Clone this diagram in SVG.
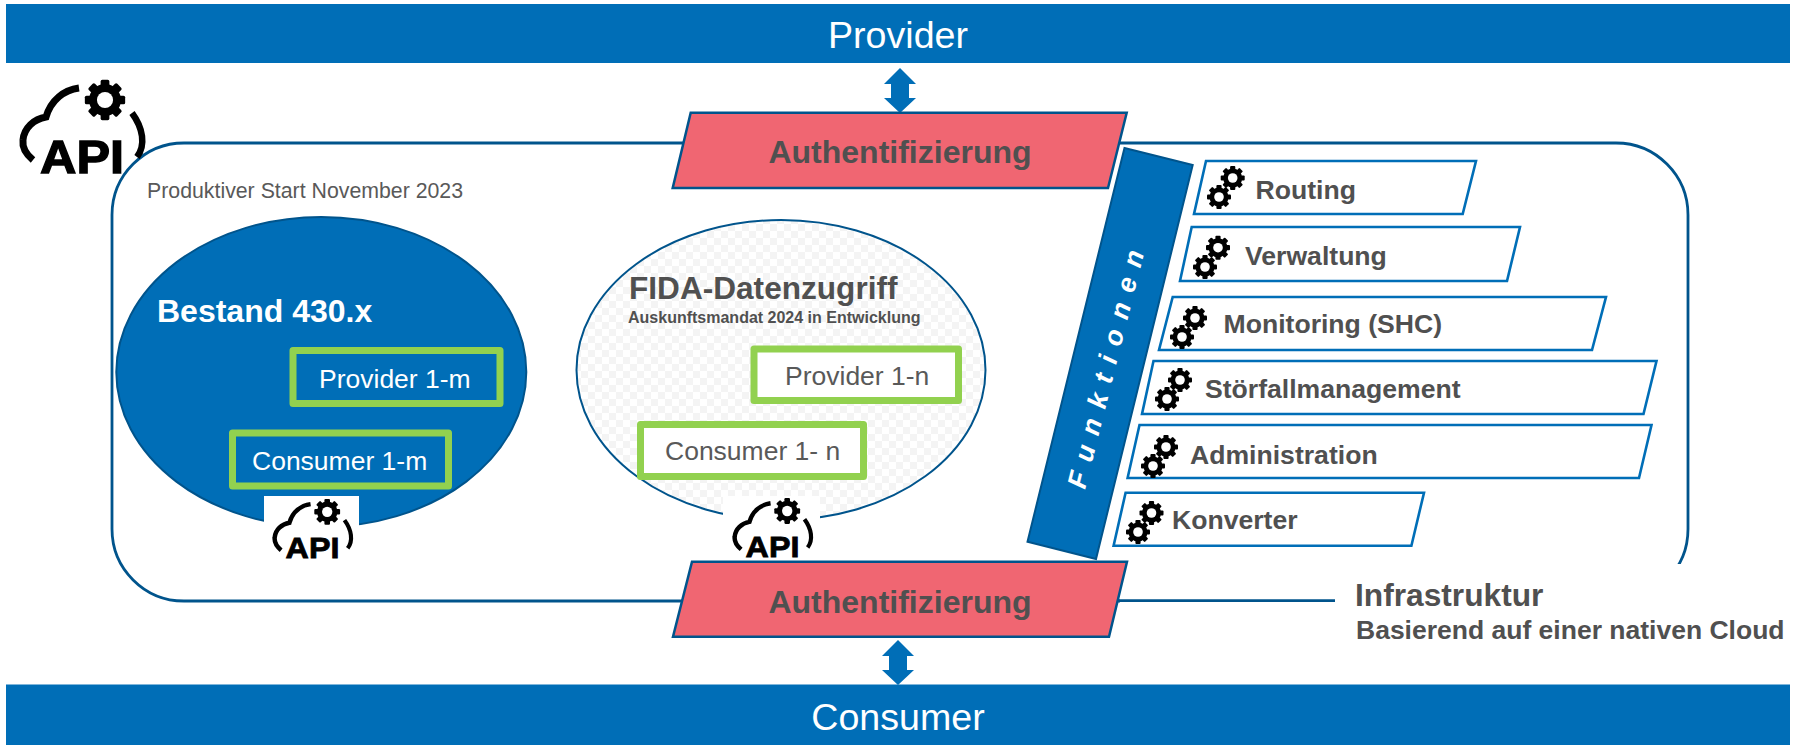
<svg xmlns="http://www.w3.org/2000/svg" width="1801" height="745" viewBox="0 0 1801 745">
<style>
text{font-family:"Liberation Sans",Arial,sans-serif}
.bar{fill:#006eb7}
.bt{fill:#fff;font-size:37.600px;text-anchor:middle}
.red{fill:#f06672;stroke:#00548c;stroke-width:2.500}
.rt{fill:#505050;font-size:32px;font-weight:bold;text-anchor:middle}
.fb{fill:#fff;stroke:#006eb7;stroke-width:2.600}
.ft{fill:#505050;font-size:26.600px;font-weight:bold}
.gb{stroke:#92d14f;stroke-width:7;stroke-linejoin:round}
.ar{fill:#006eb7}
.api{fill:#000;stroke:#000;stroke-width:1.300;font-weight:bold}
.lbl{font-size:26.500px}
</style>
<defs>
<pattern id="chk" width="14" height="14" patternUnits="userSpaceOnUse"><rect width="14" height="14" fill="#fff"/><rect width="7" height="7" fill="#f4f4f4"/><rect x="7" y="7" width="7" height="7" fill="#f4f4f4"/></pattern>
<g id="gear"><g fill="#000"><rect x="-2.600" y="-12" width="5.200" height="24" rx="1"/><rect x="-2.600" y="-12" width="5.200" height="24" rx="1" transform="rotate(45)"/><rect x="-2.600" y="-12" width="5.200" height="24" rx="1" transform="rotate(90)"/><rect x="-2.600" y="-12" width="5.200" height="24" rx="1" transform="rotate(135)"/><circle r="9.500"/></g><circle r="4.800" fill="#fff"/></g>
<g id="cloud"><path d="M79 88C64 90 51 100 46 117C34 119 24 128 23 140C22 148 27 155 33 160" fill="none" stroke="#000" stroke-width="7"/><path d="M132 113C143 128 146 145 137 157" fill="none" stroke="#000" stroke-width="6.500"/><use href="#gear" transform="translate(105 100) scale(1.680)"/></g>
</defs>

<g id="connectors">
<rect x="112" y="143" width="1576" height="458" rx="72" fill="#fff" stroke="#00548c" stroke-width="2.800"/>
<rect x="1120" y="564" width="681" height="120" fill="#fff"/>
<line x1="1100" y1="600.700" x2="1335" y2="600.700" stroke="#00548c" stroke-width="2.800"/>
<path class="ar" d="M900 68L916 84H909V98H916L900 113L884 98H891V84H884Z"/>
<path class="ar" d="M898 640L914 656H907V670H914L898 685L882 670H889V656H882Z"/>
</g>

<g id="provider"><rect class="bar" x="6" y="4" width="1784" height="59"/><text class="bt" x="898" y="47.500">Provider</text></g>
<g id="consumer"><rect class="bar" x="6" y="684.500" width="1784" height="60.500"/><text class="bt" x="898" y="730">Consumer</text></g>

<g id="auth-top"><path class="red" d="M690.700 112.700H1126.700L1108 188H672.700Z"/><text class="rt" x="900" y="163">Authentifizierung</text></g>
<g id="auth-bottom"><path class="red" d="M692 561.700H1127L1109 636.700H673Z"/><text class="rt" x="900" y="613">Authentifizierung</text></g>

<g id="api-main"><use href="#cloud"/><text class="api" x="40" y="172.500" font-size="47" textLength="84" lengthAdjust="spacingAndGlyphs">API</text></g>
<text x="147" y="198" font-size="21.300" fill="#595959">Produktiver Start November 2023</text>

<g id="bestand">
<ellipse cx="321.300" cy="372" rx="205" ry="155" fill="#006eb7" stroke="#00548c" stroke-width="2"/>
<text x="157" y="322" font-size="32" font-weight="bold" fill="#fff">Bestand 430.x</text>
<rect class="gb" x="293" y="350.500" width="207" height="53" fill="#006eb7"/><text class="lbl" x="319" y="387.500" fill="#fff">Provider 1-m</text>
<rect class="gb" x="232.500" y="433" width="216" height="53" fill="#006eb7"/><text class="lbl" x="252" y="470" fill="#fff">Consumer 1-m</text>
<rect x="264" y="496" width="95" height="64" fill="#fff"/>
<g transform="translate(260 447.800) scale(.64)"><use href="#cloud"/><text class="api" x="40" y="172.500" font-size="47" textLength="84" lengthAdjust="spacingAndGlyphs">API</text></g>
</g>

<g id="fida">
<ellipse cx="781" cy="370" rx="204.500" ry="150" fill="url(#chk)" stroke="#00548c" stroke-width="2"/>
<text x="629" y="299" font-size="31.600" font-weight="bold" fill="#505050">FIDA-Datenzugriff</text>
<text x="628" y="323" font-size="16" font-weight="bold" fill="#505050">Auskunftsmandat 2024 in Entwicklung</text>
<rect class="gb" x="754" y="349" width="204.500" height="51.500" fill="#fff"/><text class="lbl" x="785" y="385" fill="#595959">Provider 1-n</text>
<rect class="gb" x="640.500" y="424.500" width="223" height="52" fill="#fff"/><text class="lbl" x="665" y="460" fill="#595959">Consumer 1- n</text>
<rect x="723" y="496" width="97" height="64" fill="#fff"/>
<g transform="translate(720 447) scale(.64)"><use href="#cloud"/><text class="api" x="40" y="172.500" font-size="47" textLength="84" lengthAdjust="spacingAndGlyphs">API</text></g>
</g>

<g id="funktionen"><path d="M1124.500 148L1192.700 165L1096 559L1027.500 541.700Z" fill="#006eb7" stroke="#00548c" stroke-width="2"/><text transform="translate(1085 490) rotate(-76)" font-size="27" font-weight="bold" font-style="italic" fill="#fff" letter-spacing="11">Funktionen</text></g>

<g id="routing"><path class="fb" d="M1206 161H1476L1462.700 214H1194Z"/><use href="#gear" transform="translate(1232.700 178)"/><use href="#gear" transform="translate(1219 197)"/><text class="ft" x="1255.500" y="199">Routing</text></g>
<g id="verwaltung"><path class="fb" d="M1191.700 227H1520L1507 281H1180Z"/><use href="#gear" transform="translate(1218 247.700)"/><use href="#gear" transform="translate(1205 267)"/><text class="ft" x="1245" y="265">Verwaltung</text></g>
<g id="monitoring"><path class="fb" d="M1172.700 297H1606L1592 350H1159Z"/><use href="#gear" transform="translate(1195 318)"/><use href="#gear" transform="translate(1182 337)"/><text class="ft" x="1223.500" y="333">Monitoring (SHC)</text></g>
<g id="stoerfall"><path class="fb" d="M1153.500 361H1656.500L1643.500 414H1142Z"/><use href="#gear" transform="translate(1180 380)"/><use href="#gear" transform="translate(1167 399)"/><text class="ft" x="1205" y="397.500">Störfallmanagement</text></g>
<g id="administration"><path class="fb" d="M1139.500 425H1651.500L1639 478H1127.600Z"/><use href="#gear" transform="translate(1166 447)"/><use href="#gear" transform="translate(1153 466)"/><text class="ft" x="1190" y="464">Administration</text></g>
<g id="konverter"><path class="fb" d="M1125.600 492.700H1424L1411.400 545.700H1113.600Z"/><use href="#gear" transform="translate(1151.500 513)"/><use href="#gear" transform="translate(1138 532)"/><text class="ft" x="1172" y="529">Konverter</text></g>

<g id="infrastruktur"><text x="1355" y="606" font-size="31.700" font-weight="bold" fill="#505050">Infrastruktur</text><text x="1356" y="639" font-size="26.500" font-weight="bold" fill="#505050">Basierend auf einer nativen Cloud</text></g>
</svg>
